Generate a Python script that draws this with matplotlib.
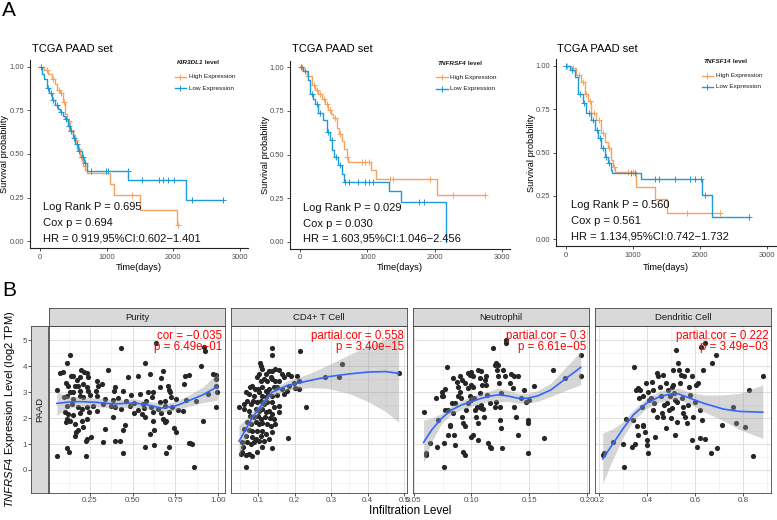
import numpy as np
import matplotlib
matplotlib.use("Agg")
import matplotlib.pyplot as plt
from matplotlib.ticker import AutoMinorLocator

plt.rcParams['font.family'] = ['Liberation Sans', 'DejaVu Sans']
plt.rcParams['mathtext.fontset'] = 'custom'
plt.rcParams['mathtext.rm'] = 'Liberation Sans'
plt.rcParams['mathtext.it'] = 'Liberation Sans:italic'

W, H = 777, 520
ORANGE = '#F7A35F'
BLUE = '#1F9AD8'

# ---------------- Panel A: Kaplan-Meier data ----------------
km_genes = ['KIR3DL1', 'TNFRSF4', 'TNFSF14']

km1_hi_t = [0, 60, 125, 180, 225, 260, 300, 340, 375, 410, 450, 490, 525, 560, 600, 630, 650, 680, 700, 1050, 1115, 1500, 2050]
km1_hi_s = [1.0, 0.98, 0.96, 0.93, 0.90, 0.87, 0.85, 0.80, 0.73, 0.69, 0.64, 0.61, 0.58, 0.53, 0.485, 0.46, 0.43, 0.41, 0.389, 0.33, 0.264, 0.178, 0.092]
km1_hi_end = 2075
km1_hi_cens = [100, 200, 280, 320, 360, 430, 470, 540, 580, 620, 670, 1375, 2075]
km1_lo_t = [0, 30, 60, 100, 140, 180, 225, 270, 300, 340, 375, 420, 450, 490, 525, 570, 625, 660, 700, 1325, 2185]
km1_lo_s = [1.0, 0.96, 0.93, 0.88, 0.85, 0.81, 0.78, 0.76, 0.74, 0.72, 0.70, 0.66, 0.63, 0.59, 0.56, 0.52, 0.485, 0.45, 0.40, 0.35, 0.236]
km1_lo_end = 2750
km1_lo_cens = [20, 120, 160, 200, 250, 320, 390, 430, 470, 510, 550, 590, 640, 680, 765, 985, 1025, 1320, 1535, 1785, 1850, 1925, 2015, 2275, 2750]

km2_hi_t = [0, 50, 100, 174, 225, 273, 320, 372, 422, 460, 496, 546, 580, 620, 660, 694, 719, 1057, 1130, 2034]
km2_hi_s = [1.0, 0.98, 0.95, 0.90, 0.87, 0.85, 0.82, 0.79, 0.756, 0.73, 0.71, 0.65, 0.62, 0.58, 0.53, 0.487, 0.458, 0.41, 0.36, 0.27]
km2_hi_end = 2743
km2_hi_cens = [30, 120, 200, 250, 300, 350, 400, 440, 520, 600, 700, 918, 967, 1017, 1330, 1380, 1935, 2272, 2743]
km2_lo_t = [0, 50, 124, 149, 190, 223, 273, 347, 397, 446, 481, 511, 570, 620, 660, 1324, 1503, 2172]
km2_lo_s = [1.0, 0.977, 0.93, 0.85, 0.82, 0.79, 0.737, 0.70, 0.63, 0.583, 0.525, 0.487, 0.438, 0.39, 0.342, 0.29, 0.227, 0.0]
km2_lo_end = 2172
km2_lo_cens = [20, 80, 170, 250, 300, 420, 470, 540, 600, 670, 720, 868, 967, 1017, 1091, 1771, 1835]

km3_hi_t = [0, 84, 159, 233, 283, 333, 382, 457, 531, 581, 631, 681, 705, 730, 1053, 1326, 1500]
km3_hi_s = [1.0, 0.986, 0.948, 0.91, 0.84, 0.80, 0.726, 0.688, 0.61, 0.563, 0.524, 0.457, 0.418, 0.389, 0.302, 0.229, 0.148]
km3_hi_end = 2295
km3_hi_cens = [20, 110, 200, 260, 310, 360, 420, 500, 560, 650, 720, 929, 1003, 1798, 2295]
km3_lo_t = [0, 60, 134, 184, 258, 308, 382, 432, 482, 531, 581, 631, 670, 695, 1118, 2032, 2181]
km3_lo_s = [1.0, 0.977, 0.938, 0.84, 0.784, 0.726, 0.688, 0.63, 0.582, 0.524, 0.476, 0.437, 0.399, 0.38, 0.345, 0.254, 0.129]
km3_lo_end = 2732
km3_lo_cens = [10, 100, 220, 280, 350, 410, 460, 510, 560, 600, 650, 978, 1038, 1326, 1390, 1624, 1848, 1922, 2012, 2071, 2732]

km_stats = [
    ['Log Rank P = 0.695', 'Cox p = 0.694', 'HR = 0.919,95%CI:0.602\u22121.401'],
    ['Log Rank P = 0.029', 'Cox p = 0.030', 'HR = 1.603,95%CI:1.046\u22122.456'],
    ['Log Rank P = 0.560', 'Cox p = 0.561', 'HR = 1.134,95%CI:0.742\u22121.732'],
]

# ---------------- Panel B: scatter data ----------------
purity_pts = [
    (0.130, 4.45), (0.118, 4.12), (0.434, 4.71), (0.634, 4.90), (0.919, 4.74), (0.924, 4.61), (0.899, 4.00),
    (0.574, 4.12), (0.353, 3.86), (0.076, 3.73), (0.091, 3.77), (0.138, 3.64), (0.153, 3.62), (0.198, 3.87),
    (0.215, 3.77), (0.231, 3.73), (0.240, 3.58), (0.192, 3.58), (0.172, 3.47), (0.473, 3.60), (0.531, 3.62),
    (0.603, 3.71), (0.676, 3.84), (0.667, 3.55), (0.806, 3.64), (0.828, 3.67), (0.967, 3.71), (0.990, 3.68),
    (0.990, 3.51), (0.110, 3.35), (0.124, 3.26), (0.163, 3.26), (0.182, 3.26), (0.207, 3.32), (0.231, 3.22),
    (0.289, 3.42), (0.298, 3.26), (0.318, 3.32), (0.395, 3.22), (0.391, 3.06), (0.444, 3.06), (0.056, 3.09),
    (0.130, 3.00), (0.153, 3.00), (0.192, 3.06), (0.240, 3.06), (0.285, 3.06), (0.492, 2.90), (0.541, 2.93),
    (0.589, 3.00), (0.618, 3.02), (0.661, 3.19), (0.705, 3.26), (0.711, 3.09), (0.719, 3.00), (0.802, 3.32),
    (0.942, 2.93), (0.986, 3.26), (0.996, 3.00), (0.095, 2.81), (0.114, 2.87), (0.153, 2.74), (0.192, 2.87),
    (0.211, 2.83), (0.250, 2.91), (0.289, 2.87), (0.337, 2.74), (0.386, 2.70), (0.415, 2.78), (0.463, 2.65),
    (0.506, 2.57), (0.560, 2.55), (0.579, 2.68), (0.614, 2.81), (0.657, 2.61), (0.686, 2.65), (0.725, 2.81),
    (0.754, 2.74), (0.812, 2.70), (0.870, 2.65), (0.114, 2.48), (0.143, 2.55), (0.182, 2.42), (0.202, 2.36),
    (0.231, 2.45), (0.269, 2.48), (0.328, 2.55), (0.370, 2.48), (0.395, 2.42), (0.434, 2.36), (0.483, 2.48),
    (0.531, 2.32), (0.564, 2.39), (0.609, 2.42), (0.647, 2.36), (0.686, 2.48), (0.731, 2.42), (0.764, 2.32),
    (0.797, 2.27), (0.990, 2.42), (0.105, 2.23), (0.124, 2.16), (0.149, 2.14), (0.192, 2.19), (0.246, 2.23),
    (0.289, 2.27), (0.386, 2.06), (0.506, 2.19), (0.556, 2.16), (0.618, 2.23), (0.667, 2.19), (0.715, 2.23),
    (0.114, 1.97), (0.110, 1.84), (0.134, 1.88), (0.163, 1.78), (0.202, 1.90), (0.231, 1.97), (0.676, 1.97),
    (0.686, 1.84), (0.696, 1.88), (0.618, 1.90), (0.570, 2.03), (0.169, 1.45), (0.163, 1.33), (0.182, 1.54),
    (0.207, 1.65), (0.337, 1.58), (0.453, 1.75), (0.444, 1.54), (0.603, 1.39), (0.624, 1.54), (0.744, 1.62),
    (0.754, 1.45), (0.909, 1.90), (0.231, 1.20), (0.227, 1.11), (0.256, 1.26), (0.328, 1.07), (0.395, 1.13),
    (0.428, 1.13), (0.828, 1.03), (0.837, 1.03), (0.845, 1.00), (0.574, 0.88), (0.622, 0.98), (0.715, 0.88),
    (0.696, 0.64), (0.860, 0.10), (0.056, 0.55), (0.128, 0.68), (0.118, 0.85), (0.227, 0.55), (0.444, 0.66),
]
cd4_pts = [
    (0.137, 4.71), (0.138, 4.45), (0.214, 4.61), (0.330, 4.09), (0.105, 4.12), (0.108, 4.03), (0.111, 3.90),
    (0.120, 3.71), (0.129, 3.84), (0.138, 3.84), (0.147, 3.90), (0.157, 3.86), (0.166, 3.71), (0.182, 3.71),
    (0.207, 3.64), (0.134, 3.58), (0.102, 3.71), (0.097, 3.58), (0.106, 3.45), (0.116, 3.51), (0.125, 3.45),
    (0.138, 3.51), (0.147, 3.45), (0.157, 3.42), (0.170, 3.58), (0.184, 3.26), (0.202, 3.17), (0.211, 3.13),
    (0.198, 3.35), (0.084, 3.26), (0.091, 3.13), (0.076, 3.19), (0.100, 3.13), (0.111, 3.19), (0.120, 3.06),
    (0.129, 3.13), (0.143, 3.19), (0.152, 3.19), (0.166, 3.13), (0.179, 3.06), (0.065, 3.00), (0.074, 2.93),
    (0.088, 2.87), (0.102, 3.00), (0.111, 2.87), (0.120, 2.81), (0.127, 2.93), (0.138, 2.87), (0.152, 2.91),
    (0.170, 2.93), (0.047, 2.42), (0.061, 2.55), (0.070, 2.65), (0.079, 2.55), (0.085, 2.68), (0.097, 2.61),
    (0.106, 2.68), (0.116, 2.55), (0.125, 2.61), (0.137, 2.61), (0.143, 2.42), (0.157, 2.48), (0.232, 2.42),
    (0.061, 2.36), (0.074, 2.29), (0.093, 2.36), (0.102, 2.29), (0.111, 2.36), (0.120, 2.23), (0.129, 2.27),
    (0.138, 2.16), (0.076, 2.10), (0.088, 2.03), (0.100, 2.10), (0.106, 1.97), (0.118, 2.03), (0.131, 2.01),
    (0.143, 1.97), (0.157, 2.23), (0.070, 1.84), (0.079, 1.78), (0.093, 1.84), (0.102, 1.78), (0.111, 1.80),
    (0.125, 1.78), (0.134, 1.71), (0.147, 1.78), (0.061, 1.58), (0.074, 1.54), (0.084, 1.52), (0.097, 1.49),
    (0.111, 1.52), (0.120, 1.39), (0.138, 1.45), (0.065, 1.33), (0.082, 1.26), (0.093, 1.20), (0.106, 1.33),
    (0.129, 1.20), (0.182, 1.24), (0.054, 1.07), (0.070, 1.07), (0.079, 1.00), (0.088, 1.07), (0.102, 1.11),
    (0.116, 1.13), (0.058, 0.90), (0.111, 0.88), (0.137, 0.85), (0.056, 0.68), (0.052, 0.62), (0.065, 0.59),
    (0.074, 0.62), (0.084, 0.55), (0.097, 0.68), (0.065, 0.10), (0.284, 3.58), (0.321, 3.58), (0.485, 3.73),
    (0.189, 3.64), (0.211, 3.45),
]
neut_pts = [
    (0.0586, 2.23), (0.0609, 0.64), (0.0606, 0.58), (0.0643, 1.06), (0.0706, 0.90), (0.0766, 1.03), (0.0763, 0.13),
    (0.0786, 3.99), (0.0691, 2.77), (0.0743, 3.03), (0.0757, 2.84), (0.0771, 3.12), (0.0714, 1.93), (0.0794, 2.32),
    (0.0814, 1.74), (0.0794, 1.35), (0.0843, 2.19), (0.0851, 1.35), (0.0857, 0.97), (0.0814, 1.68), (0.0857, 2.58),
    (0.0843, 3.54), (0.0871, 3.41), (0.0886, 3.22), (0.0900, 3.61), (0.0914, 3.48), (0.0900, 3.03), (0.0886, 2.84),
    (0.0909, 2.77), (0.0914, 2.06), (0.0929, 1.80), (0.0943, 1.68), (0.0929, 0.71), (0.0943, 0.58), (0.0957, 2.32),
    (0.0966, 2.58), (0.0971, 3.74), (0.0986, 3.67), (0.1000, 3.80), (0.1014, 3.61), (0.0971, 3.16), (0.0994, 3.29),
    (0.1014, 3.22), (0.0986, 2.84), (0.1000, 2.71), (0.1023, 2.77), (0.1000, 1.29), (0.1014, 1.35), (0.1029, 2.32),
    (0.1043, 2.06), (0.1057, 3.87), (0.1071, 3.54), (0.1086, 3.84), (0.1091, 3.29), (0.1071, 2.96), (0.1051, 2.45),
    (0.1086, 2.51), (0.1100, 2.35), (0.1057, 1.80), (0.1057, 1.16), (0.1086, 2.38), (0.1109, 2.06), (0.1114, 3.48),
    (0.1129, 3.61), (0.1129, 3.29), (0.1137, 2.90), (0.1143, 1.03), (0.1157, 0.90), (0.1171, 0.84), (0.1186, 4.70),
    (0.1200, 4.06), (0.1214, 4.12), (0.1223, 3.87), (0.1229, 4.06), (0.1234, 3.35), (0.1229, 3.61), (0.1214, 2.64),
    (0.1200, 2.45), (0.1243, 2.45), (0.1257, 2.96), (0.1243, 1.93), (0.1251, 1.61), (0.1263, 0.84), (0.1271, 3.87),
    (0.1286, 3.61), (0.1300, 5.03), (0.1343, 3.71), (0.1371, 3.63), (0.1400, 3.63), (0.1329, 3.35), (0.1357, 3.16),
    (0.1371, 2.45), (0.1386, 2.06), (0.1400, 1.35), (0.1429, 2.77), (0.1457, 3.09), (0.1471, 2.64), (0.1486, 1.93),
    (0.1486, 1.80), (0.1486, 0.64), (0.1500, 2.71), (0.1543, 3.25), (0.1629, 1.22), (0.1700, 3.87), (0.1806, 3.54),
    (0.1943, 4.45), (0.1949, 3.61), (0.1300, 4.90), (0.0743, 2.84), (0.0771, 2.32), (0.0829, 2.58), (0.0943, 3.35),
    (0.1157, 2.58),
]
dend_pts = [
    (0.214, 0.58), (0.219, 0.64), (0.256, 1.07), (0.300, 0.99), (0.304, 0.10), (0.311, 1.97), (0.335, 0.90),
    (0.342, 1.93), (0.344, 3.99), (0.349, 0.99), (0.353, 3.09), (0.363, 3.16), (0.367, 2.77), (0.369, 3.09),
    (0.376, 2.45), (0.381, 1.74), (0.358, 1.68), (0.363, 1.35), (0.383, 2.84), (0.383, 1.68), (0.390, 1.48),
    (0.397, 1.16), (0.397, 0.97), (0.404, 0.64), (0.394, 3.35), (0.404, 3.03), (0.408, 2.71), (0.414, 2.77),
    (0.418, 3.41), (0.425, 2.32), (0.428, 2.58), (0.432, 1.29), (0.439, 3.74), (0.446, 3.61), (0.453, 3.22),
    (0.456, 2.84), (0.460, 2.19), (0.467, 3.67), (0.464, 2.06), (0.469, 2.51), (0.478, 1.61), (0.478, 3.35),
    (0.483, 2.58), (0.488, 3.09), (0.492, 2.32), (0.494, 2.84), (0.497, 2.00), (0.501, 2.38), (0.506, 3.87),
    (0.508, 3.29), (0.511, 2.96), (0.515, 2.71), (0.515, 1.35), (0.519, 4.64), (0.525, 1.87), (0.529, 4.12),
    (0.533, 3.87), (0.536, 3.35), (0.539, 3.67), (0.543, 2.77), (0.547, 2.45), (0.550, 2.19), (0.553, 3.61),
    (0.557, 2.06), (0.564, 3.87), (0.567, 1.80), (0.571, 2.51), (0.575, 3.22), (0.578, 2.90), (0.585, 3.61),
    (0.585, 1.16), (0.592, 2.06), (0.599, 2.64), (0.603, 3.29), (0.606, 0.90), (0.613, 3.35), (0.619, 2.32),
    (0.619, 1.22), (0.624, 4.74), (0.626, 1.93), (0.633, 3.87), (0.640, 4.92), (0.640, 1.19), (0.664, 0.64),
    (0.668, 4.12), (0.686, 4.45), (0.689, 0.84), (0.710, 1.74), (0.758, 2.45), (0.768, 1.80), (0.807, 1.65),
    (0.825, 3.09), (0.842, 0.55), (0.881, 3.61), (0.501, 3.22), (0.439, 2.06), (0.522, 2.64), (0.425, 3.09),
]

# loess fits: x, fit, lower, upper
purity_fit = [
    [0.056, 0.12, 0.19, 0.29, 0.39, 0.51, 0.58, 0.67, 0.75, 0.83, 0.91, 0.996],
    [2.57, 2.62, 2.64, 2.61, 2.55, 2.59, 2.52, 2.39, 2.47, 2.68, 2.90, 3.22],
    [2.12, 2.38, 2.46, 2.44, 2.39, 2.43, 2.37, 2.23, 2.30, 2.46, 2.60, 2.70],
    [3.02, 2.86, 2.82, 2.78, 2.71, 2.75, 2.67, 2.55, 2.64, 2.90, 3.20, 3.74],
]
cd4_fit = [
    [0.047, 0.065, 0.084, 0.111, 0.138, 0.179, 0.24, 0.29, 0.35, 0.40, 0.45, 0.485],
    [1.11, 1.55, 2.03, 2.55, 3.00, 3.26, 3.45, 3.60, 3.71, 3.78, 3.80, 3.73],
    [0.50, 1.15, 1.80, 2.38, 2.86, 3.08, 3.18, 3.15, 2.95, 2.65, 2.25, 1.85],
    [1.72, 1.95, 2.26, 2.72, 3.14, 3.44, 3.72, 4.05, 4.45, 4.80, 5.05, 5.15],
]
neut_fit = [
    [0.0586, 0.0657, 0.0743, 0.0829, 0.0914, 0.1000, 0.1086, 0.1171, 0.1229, 0.1314, 0.1400, 0.1486, 0.1571, 0.1686, 0.1800, 0.1943],
    [1.06, 1.55, 2.00, 2.32, 2.51, 2.64, 2.77, 2.86, 2.90, 2.86, 2.77, 2.77, 2.86, 3.09, 3.48, 3.96],
    [0.26, 1.10, 1.80, 2.15, 2.33, 2.45, 2.58, 2.66, 2.64, 2.64, 2.58, 2.58, 2.65, 2.84, 3.05, 3.29],
    [1.93, 2.00, 2.19, 2.48, 2.68, 2.84, 2.96, 3.06, 3.16, 3.08, 2.96, 2.96, 3.07, 3.35, 3.90, 4.57],
]
dend_fit = [
    [0.214, 0.258, 0.300, 0.342, 0.397, 0.453, 0.501, 0.529, 0.578, 0.633, 0.717, 0.786, 0.881],
    [0.43, 1.03, 1.61, 2.13, 2.58, 2.84, 2.94, 2.94, 2.77, 2.58, 2.35, 2.26, 2.23],
    [-0.52, 0.45, 1.29, 1.90, 2.38, 2.62, 2.72, 2.71, 2.55, 2.26, 1.90, 1.55, 1.22],
    [1.42, 1.60, 1.87, 2.32, 2.77, 3.05, 3.14, 3.16, 3.00, 2.90, 2.90, 2.96, 3.29],
]

facet_names = ['Purity', 'CD4+ T Cell', 'Neutrophil', 'Dendritic Cell']
facet_xlims = [(0.01, 1.04), (0.025, 0.508), (0.0495, 0.2015), (0.182, 0.915)]
facet_xticks = [[0.25, 0.50, 0.75, 1.00], [0.1, 0.2, 0.3, 0.4, 0.5], [0.05, 0.10, 0.15, 0.20], [0.2, 0.4, 0.6, 0.8]]
facet_xlabels = [['0.25', '0.50', '0.75', '1.00'], ['0.1', '0.2', '0.3', '0.4', '0.5'],
                 ['0.05', '0.10', '0.15', '0.20'], ['0.2', '0.4', '0.6', '0.8']]
facet_notes = ['cor = \u22120.035\np = 6.49e\u221201', 'partial.cor = 0.558\np = 3.40e\u221215',
               'partial.cor = 0.3\np = 6.61e\u221205', 'partial.cor = 0.222\np = 3.49e\u221203']


def box(l, t, r, b):
    return [l / W, 1 - b / H, (r - l) / W, (b - t) / H]


fig = plt.figure(figsize=(W / 100, H / 100), dpi=100)

# ---------------- draw panel A ----------------
km_data = [
    (km1_hi_t, km1_hi_s, km1_hi_end, km1_hi_cens, km1_lo_t, km1_lo_s, km1_lo_end, km1_lo_cens),
    (km2_hi_t, km2_hi_s, km2_hi_end, km2_hi_cens, km2_lo_t, km2_lo_s, km2_lo_end, km2_lo_cens),
    (km3_hi_t, km3_hi_s, km3_hi_end, km3_hi_cens, km3_lo_t, km3_lo_s, km3_lo_end, km3_lo_cens),
]
km_boxes = [(30, 60, 248, 248), (290, 60.5, 510, 248.5), (555.5, 59, 775.5, 246)]
km_title_x = [32, 292, 557]
km_ylab_x = [5, 265, 531]
km_text_x = [45, 45, 74]

for i in range(3):
    l, t, r, b = km_boxes[i]
    ax = fig.add_axes(box(l, t, r, b))
    hi_t, hi_s, hi_end, hi_c, lo_t, lo_s, lo_end, lo_c = km_data[i]
    for tt, ss, end, cens, col in [(hi_t, hi_s, hi_end, hi_c, ORANGE), (lo_t, lo_s, lo_end, lo_c, BLUE)]:
        ax.step(np.append(tt, end), np.append(ss, ss[-1]), where='post', color=col, lw=1.0)
        idx = np.searchsorted(tt, cens, side='right') - 1
        ax.plot(cens, np.array(ss)[idx], ls='none', marker='+', ms=4, mew=0.7, color=col)
    ax.set_xlim(-150, 3120)
    ax.set_ylim(-0.04, 1.04)
    ax.set_xticks([0, 1000, 2000, 3000])
    ax.set_yticks([0, 0.25, 0.5, 0.75, 1.0])
    ax.set_yticklabels(['0.00', '0.25', '0.50', '0.75', '1.00'])
    ax.tick_params(labelsize=5.4, colors='#333333', length=2.5, width=0.6, pad=1.5, labelcolor='#4d4d4d')
    for sp in ['top', 'right']:
        ax.spines[sp].set_visible(False)
    for sp in ['left', 'bottom']:
        ax.spines[sp].set_linewidth(0.8)
        ax.spines[sp].set_color('#222222')
    for k, line in enumerate(km_stats[i]):
        ax.text(km_text_x[i], [0.195, 0.103, 0.017][k], line, fontsize=8, va='center', color='#111111')
    # legend
    tl = ax.text(0.672, 0.985, km_genes[i], transform=ax.transAxes, fontsize=4.6,
                 style='italic', weight='bold', va='center', color='#1a1a1a')
    ax.annotate(' level', xy=(1, 0.5), xycoords=tl, va='center', fontsize=4.6,
                weight='bold', color='#1a1a1a')
    for yy, col, lab in [(0.91, ORANGE, 'High Expression'), (0.851, BLUE, 'Low Expression')]:
        ax.plot([0.665, 0.716], [yy, yy], transform=ax.transAxes, color=col, lw=1.0, clip_on=False)
        ax.plot([0.69], [yy], transform=ax.transAxes, marker='+', color=col, ms=4, mew=0.7, clip_on=False)
        ax.text(0.729, yy, lab, transform=ax.transAxes, fontsize=4.6, va='center', color='#1a1a1a')
    fig.text(km_title_x[i] / W, 1 - 49 / H, 'TCGA PAAD set', fontsize=8, va='center', ha='left')
    fig.text(km_ylab_x[i] / W, 1 - (t + b) / 2 / H, 'Survival probability', fontsize=6.7,
             rotation=90, va='center', ha='center')
    fig.text((l + r) / 2 / W, 1 - 268 / H, 'Time(days)', fontsize=6.7, va='center', ha='center')

fig.text(2 / W, 1 - 1 / H, 'A', fontsize=15, va='top', ha='left')
fig.text(2 / W, 1 - 281 / H, 'B', fontsize=15, va='top', ha='left')

# ---------------- draw panel B ----------------
pts_all = [purity_pts, cd4_pts, neut_pts, dend_pts]
fits = [purity_fit, cd4_fit, neut_fit, dend_fit]
lefts = [49, 231, 413, 595]
PW = 176
TOP, BOT, STRIP_TOP = 326, 493, 308
first_ax = None
for j in range(4):
    l = lefts[j]
    ax = fig.add_axes(box(l, TOP, l + PW, BOT))
    pts = np.array(pts_all[j])
    fx, fy, flo, fhi = fits[j]
    ax.scatter(pts[:, 0], pts[:, 1], s=14, color='#262626', lw=0, zorder=2)
    ax.fill_between(fx, flo, fhi, color='#999999', alpha=0.4, lw=0, zorder=3)
    ax.plot(fx, fy, color='#3366FF', lw=1.2, zorder=4)
    ax.set_xlim(*facet_xlims[j])
    ax.set_ylim(-0.89, 5.56)
    ax.set_xticks(facet_xticks[j])
    ax.set_xticklabels(facet_xlabels[j])
    ax.set_yticks([0, 1, 2, 3, 4, 5])
    ax.xaxis.set_minor_locator(AutoMinorLocator(2))
    ax.yaxis.set_minor_locator(AutoMinorLocator(2))
    ax.grid(which='major', color='#e0e0e0', lw=0.7, zorder=0)
    ax.grid(which='minor', color='#ececec', lw=0.4, zorder=0)
    ax.set_axisbelow(True)
    ax.tick_params(axis='x', labelsize=5.8, length=2, width=0.6, pad=1, colors='#333333', labelcolor='#4d4d4d')
    ax.tick_params(axis='y', left=False, labelleft=False)
    ax.tick_params(which='minor', length=0)
    for sp in ax.spines.values():
        sp.set_color('#444444')
        sp.set_linewidth(0.6)
    ax.text(0.985, 0.975, facet_notes[j], transform=ax.transAxes, ha='right', va='top',
            color='#FF0000', fontsize=8.3, linespacing=0.92, zorder=5)
    # column strip
    sax = fig.add_axes(box(l, STRIP_TOP, l + PW, TOP))
    sax.set_facecolor('#D9D9D9')
    sax.set_xticks([])
    sax.set_yticks([])
    for sp in sax.spines.values():
        sp.set_color('#444444')
        sp.set_linewidth(0.6)
    sax.text(0.5, 0.5, facet_names[j], transform=sax.transAxes, ha='center', va='center',
             fontsize=6.8, color='#1a1a1a')
    if j == 0:
        first_ax = ax

# row strip with the y ticks outside it
rax = fig.add_axes(box(31, TOP, 48, BOT), sharey=first_ax)
rax.set_facecolor('#D9D9D9')
rax.set_xticks([])
rax.tick_params(axis='y', labelsize=5.8, length=2, width=0.6, pad=1, colors='#333333',
                labelcolor='#4d4d4d', labelleft=True, left=True)
rax.tick_params(which='minor', length=0)
for sp in rax.spines.values():
    sp.set_color('#444444')
    sp.set_linewidth(0.6)
rax.text(0.5, 0.5, 'PAAD', transform=rax.transAxes, rotation=90, ha='center', va='center',
         fontsize=6.8, color='#1a1a1a')

fig.text(10.5 / W, 1 - (TOP + BOT) / 2 / H, r'$\it{TNFRSF4}$ Expression Level (log2 TPM)',
         rotation=90, fontsize=8, va='center', ha='center')
fig.text(410 / W, 1 - 511 / H, 'Infiltration Level', fontsize=8.5, va='center', ha='center')

fig.savefig('out.png', dpi=100)
